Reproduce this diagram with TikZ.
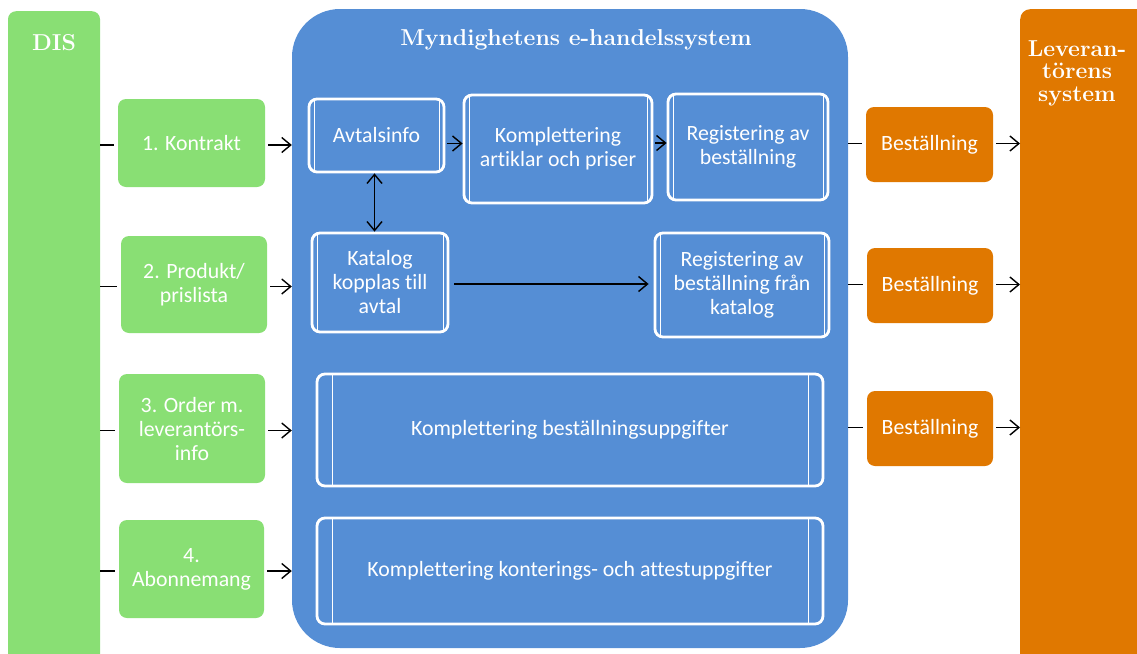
\documentclass[tikz,border=0pt]{standalone}
\usepackage{fontspec}
\newfontfamily\calfont{Carlito}[Ligatures=NoCommon]
\usetikzlibrary{arrows.meta,calc}
\definecolor{grn}{RGB}{137,223,116}
\definecolor{blu}{RGB}{85,142,213}
\definecolor{org}{RGB}{224,120,0}
\tikzset{
  txt/.style={text=white, font=\calfont\fontsize{21.8}{24}\selectfont, align=center, inner sep=0pt},
  ttl/.style={text=white, font=\bfseries\fontsize{23}{22.5}\selectfont, align=center, inner sep=0pt},
  gbox/.style={txt, fill=grn, rounded corners=8pt},
  obox/.style={txt, fill=org, rounded corners=8pt},
  procbox/.style={txt, draw=white, line width=2.8pt, rounded corners=8pt,
    path picture={
      \draw[white, line width=1pt]
        ([xshift=#1]path picture bounding box.north west) -- ([xshift=#1]path picture bounding box.south west)
        ([xshift=-#1]path picture bounding box.north east) -- ([xshift=-#1]path picture bounding box.south east);
    }},
  procbox/.default=5pt,
  ln/.style={draw=black, line width=1.4pt},
  arr/.style={ln, -{Straight Barb[length=9pt,width=15pt]}},
  darr/.style={ln, {Straight Barb[length=9pt,width=15pt]}-{Straight Barb[length=9pt,width=15pt]}}
}
\begin{document}
\begin{tikzpicture}[x=1pt,y=-1pt]
\useasboundingbox (0,0) rectangle (1137,653);
\clip (0,0) rectangle (1137,653);
% big columns
\node[fill=grn, rounded corners=8pt, minimum width=92pt, minimum height=680pt, anchor=north, inner sep=0pt] (dis) at (54,11) {};
\node[ttl] (distitle) at (54,43) {DIS};
\node[fill=blu, rounded corners=48pt, minimum width=556pt, minimum height=639pt, inner sep=0pt] (sys) at (570,328.5) {};
\node[ttl] (systitle) at (576,40) {Myndighetens e-handelssystem};
\node[fill=org, rounded corners=10pt, minimum width=160pt, minimum height=680pt, anchor=north west, inner sep=0pt] (lev) at (1020,9) {};
\node[ttl] (levtitle) at (1077,73) {Leveran-\\törens\\system};
% green boxes
\node[gbox, minimum width=147pt, minimum height=88pt] (g1) at (191.5,143) {1. Kontrakt};
\node[gbox, minimum width=146pt, minimum height=97pt] (g2) at (194,284.5) {2. Produkt/\\prislista};
\node[gbox, minimum width=146pt, minimum height=109pt] (g3) at (192,428.5) {3. Order m.\\leverantörs-\\info};
\node[gbox, minimum width=145pt, minimum height=98pt] (g4) at (191.5,569) {4.\\Abonnemang};
% process boxes
\node[procbox, minimum width=135pt, minimum height=73pt] (a1) at (376.5,135.5) {Avtalsinfo};
\node[procbox, minimum width=188pt, minimum height=108pt] (a2) at (558,149) {Komplettering\\artiklar och priser};
\node[procbox, minimum width=160pt, minimum height=106pt] (a3) at (748,147) {Registering av\\beställning};
\node[procbox, minimum width=136pt, minimum height=99pt] (b1) at (380,282.5) {Katalog\\kopplas till\\avtal};
\node[procbox, minimum width=174pt, minimum height=104pt] (b2) at (742,285) {Registering av\\beställning från\\katalog};
\node[procbox=15pt, minimum width=506pt, minimum height=112pt] (c1) at (570,430) {Komplettering beställningsuppgifter};
\node[procbox=15pt, minimum width=506pt, minimum height=106pt] (d1) at (570,571) {Komplettering konterings- och attestuppgifter};
% orange boxes
\node[obox, minimum width=127pt, minimum height=75pt] (o1) at (929.5,144.5) {Beställning};
\node[obox, minimum width=126pt, minimum height=75pt] (o2) at (930,285.5) {Beställning};
\node[obox, minimum width=126pt, minimum height=75pt] (o3) at (930,428.5) {Beställning};
% connectors DIS -> green -> system
\foreach \g in {g1,g2,g3,g4}{
  \draw[ln] ([yshift=-2pt]\g.west -| dis.east) -- ([xshift=-4pt,yshift=-2pt]\g.west);
  \draw[arr] ([xshift=3pt,yshift=-2pt]\g.east) -- ([yshift=-2pt]\g.east -| sys.west);
}
% inner connectors
\draw[arr] ([xshift=2pt,yshift=-8pt]a1.east) -- ([yshift=-8pt]a1.east -| a2.west);
\draw[arr] ([xshift=2pt,yshift=6pt]a2.east) -- ([yshift=6pt]a2.east -| a3.west);
\draw[darr] ([xshift=-2pt]a1.south) -- ([xshift=-2pt]a1.south |- b1.north);
\draw[arr] ([xshift=5pt,yshift=-1.5pt]b1.east) -- ([xshift=-5pt,yshift=-1.5pt]b1.east -| b2.west);
% system -> orange -> supplier
\foreach \o in {o1,o2,o3}{
  \draw[ln] ([yshift=1pt]\o.west -| sys.east) -- ([xshift=-4pt,yshift=1pt]\o.west);
  \draw[arr] ([xshift=3pt,yshift=1pt]\o.east) -- ([yshift=1pt]\o.east -| lev.west);
}
\end{tikzpicture}
\end{document}
